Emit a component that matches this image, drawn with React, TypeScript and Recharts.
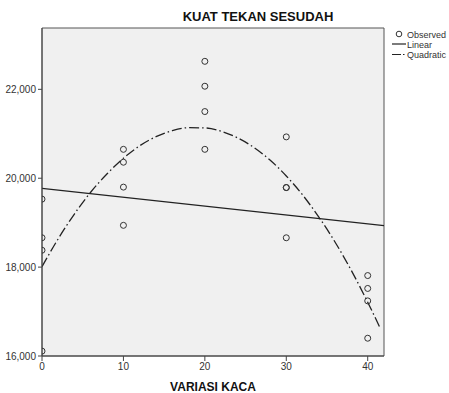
import React from 'react';
import { ComposedChart, XAxis, YAxis, Scatter, Line, ReferenceArea } from 'recharts';

const xTicks = [0, 10, 20, 30, 40];
const yTicks = [16000, 18000, 20000, 22000];

const observedX = [0, 0, 0, 0, 10, 10, 10, 10, 20, 20, 20, 20, 30, 30, 30, 30, 40, 40, 40, 40];
const observedY = [19530, 18660, 18380, 16110, 20650, 20360, 19800, 18940, 22630, 22070, 21500, 20650, 20930, 19790, 19790, 18660, 17810, 17520, 17240, 16400];

const linearX = [0, 42];
const linearY = [19772, 18935];

const quadX = [0, 2, 4, 6, 8, 10, 12, 14, 16, 18, 20, 22, 24, 26, 28, 30, 32, 34, 36, 38, 40, 41.6];
const quadY = [18010, 18640, 19200, 19690, 20100, 20450, 20730, 20935, 21070, 21137, 21132, 21057, 20910, 20695, 20410, 20050, 19625, 19125, 18560, 17920, 17210, 16600];

const legendLabels = ['Observed', 'Linear', 'Quadratic'];

const observed = observedX.map((x, i) => ({ x, y: observedY[i] }));
const linear = linearX.map((x, i) => ({ x, y: linearY[i] }));
const quad = quadX.map((x, i) => ({ x, y: quadY[i] }));

const FONT = '"Liberation Sans", Arial, sans-serif';

const LegendBox = () => (
  <svg width={62} height={36} style={{ position: 'absolute', left: 387, top: 26, overflow: 'visible' }}>
    <circle cx={12} cy={8} r={2.8} fill="none" stroke="#333" strokeWidth={1} />
    <text x={20} y={11.5} fontSize={9} fill="#333" fontFamily={FONT}>{legendLabels[0]}</text>
    <line x1={5} x2={19} y1={18} y2={18} stroke="#222" strokeWidth={1.2} />
    <text x={20} y={21.5} fontSize={9} fill="#333" fontFamily={FONT}>{legendLabels[1]}</text>
    <line x1={5} x2={19} y1={28.5} y2={28.5} stroke="#222" strokeWidth={1.2} strokeDasharray="9 2 1.5 2" />
    <text x={20} y={32} fontSize={9} fill="#333" fontFamily={FONT}>{legendLabels[2]}</text>
  </svg>
);

const CircleShape = (props: any) => {
  const { cx, cy } = props;
  return <circle cx={cx} cy={cy} r={3} fill="none" stroke="#333" strokeWidth={1} />;
};

export default function App() {
  return (
    <div style={{ position: 'absolute', left: 0, top: 0, width: 449, height: 393, background: '#fff', overflow: 'hidden' }}>
      <ComposedChart
        width={449}
        height={393}
        margin={{ top: 28, right: 65, bottom: 0, left: 0 }}
        style={{ fontFamily: FONT }}
      >
        <XAxis
          dataKey="x"
          type="number"
          domain={[0, 42]}
          ticks={xTicks}
          allowDataOverflow
          height={37}
          tickSize={5}
          axisLine={{ stroke: '#444' }}
          tickLine={{ stroke: '#444' }}
          tick={{ fontSize: 10, fill: '#333', fontFamily: FONT }}
          label={{ value: 'VARIASI KACA', position: 'insideBottom', offset: 2, fontSize: 12, fontWeight: 'bold', fill: '#111', fontFamily: FONT }}
        />
        <YAxis
          dataKey="y"
          type="number"
          domain={[16000, 23380]}
          ticks={yTicks}
          allowDataOverflow
          width={42}
          tickSize={4}
          axisLine={{ stroke: '#444' }}
          tickLine={{ stroke: '#444' }}
          tickFormatter={(v: number) => v.toLocaleString('en-US')}
          tick={{ fontSize: 10, fill: '#333', fontFamily: FONT }}
        />
        <ReferenceArea x1={0} x2={42} y1={16000} y2={23380} fill="#f0f0f0" fillOpacity={1} stroke="#555" strokeWidth={1} />
        <Line data={linear} dataKey="y" type="linear" stroke="#222" strokeWidth={1.3} dot={false} isAnimationActive={false} name="Linear" />
        <Line data={quad} dataKey="y" type="monotone" stroke="#222" strokeWidth={1.3} strokeDasharray="10 3 1.5 3" dot={false} isAnimationActive={false} name="Quadratic" />
        <Scatter data={observed} dataKey="y" shape={<CircleShape />} isAnimationActive={false} name="Observed" />
      </ComposedChart>
      <div
        style={{
          position: 'absolute',
          left: 258,
          top: 9,
          transform: 'translateX(-50%)',
          fontFamily: FONT,
          fontWeight: 'bold',
          fontSize: 13,
          color: '#111',
          whiteSpace: 'nowrap',
        }}
      >
        KUAT TEKAN SESUDAH
      </div>
      <LegendBox />
    </div>
  );
}
